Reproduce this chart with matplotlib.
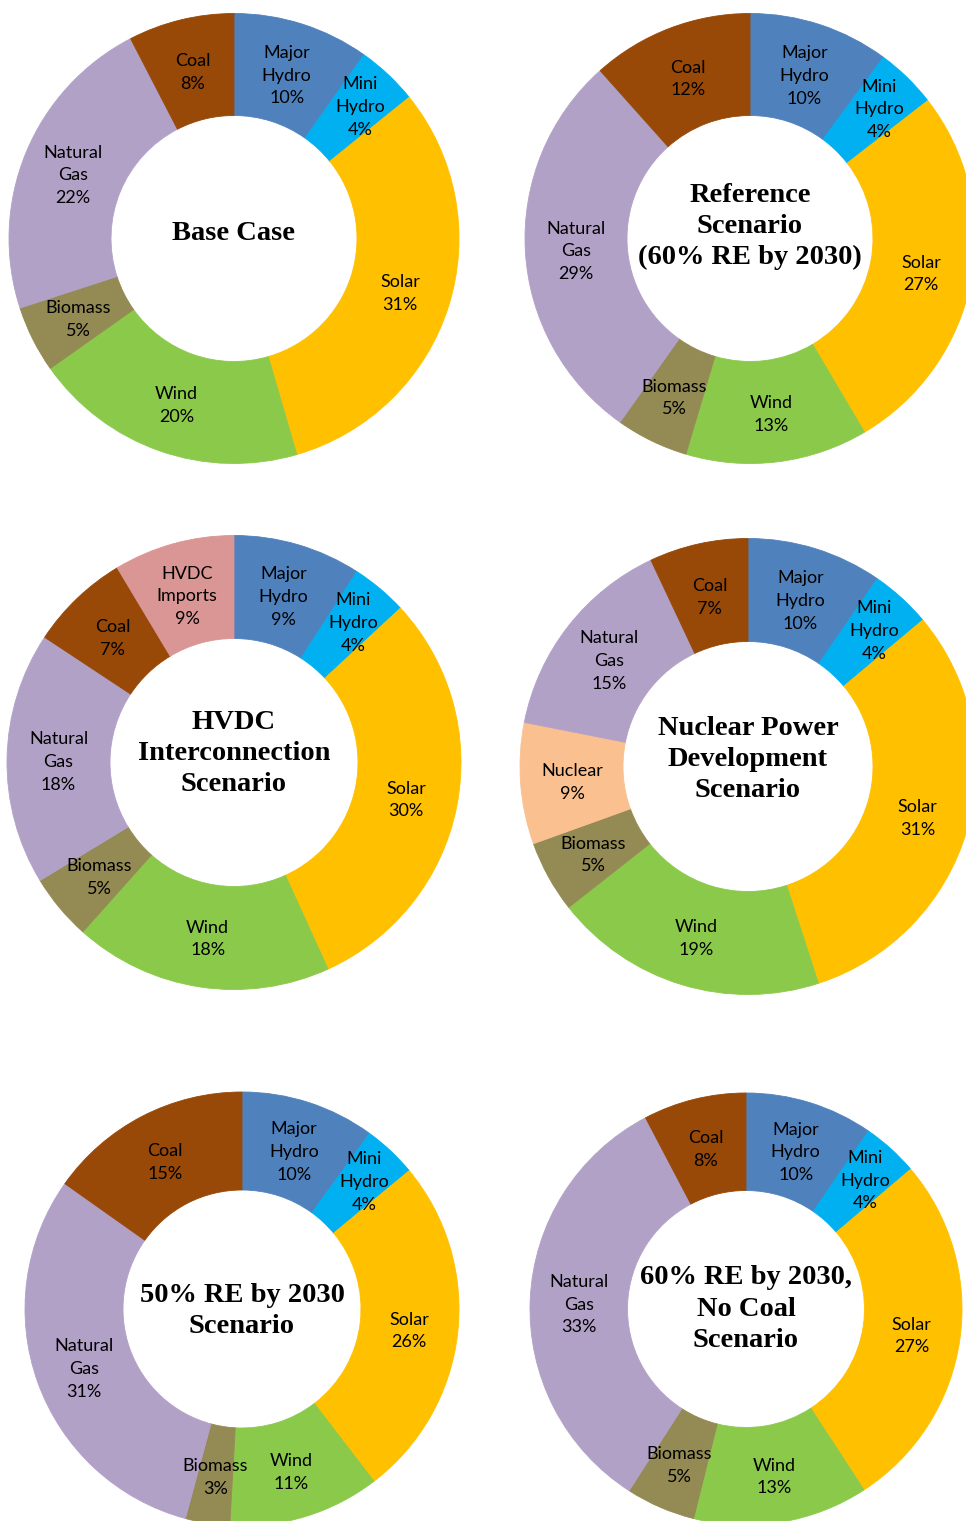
import matplotlib.pyplot as plt
import numpy as np

W, H = 966, 1521

# scenario titles
titles = ["Base Case",
          "Reference\nScenario\n(60% RE by 2030)",
          "HVDC\nInterconnection\nScenario",
          "Nuclear Power\nDevelopment\nScenario",
          "50% RE by 2030\nScenario",
          "60% RE by 2030,\nNo Coal\nScenario"]

# generation mix per scenario (%), clockwise from 12 o'clock
std_sources = ["Major Hydro", "Mini Hydro", "Solar", "Wind", "Biomass", "Natural Gas", "Coal"]
hvdc_sources = ["Major Hydro", "Mini Hydro", "Solar", "Wind", "Biomass", "Natural Gas", "Coal", "HVDC Imports"]
nuc_sources = ["Major Hydro", "Mini Hydro", "Solar", "Wind", "Biomass", "Nuclear", "Natural Gas", "Coal"]

base_share = [9.8, 4.4, 31.3, 19.7, 4.8, 22.4, 7.6]
ref_share = [10.1, 4.4, 27.0, 13.1, 5.2, 28.6, 11.6]
hvdc_share = [9.1, 4.0, 30.1, 18.4, 4.7, 18.0, 7.1, 8.6]
nuc_share = [9.6, 4.3, 31.1, 19.4, 5.1, 8.6, 14.9, 7.0]
re50_share = [10.0, 4.0, 25.6, 11.3, 3.3, 30.6, 15.2]
nocoal_share = [9.6, 4.2, 27.0, 13.1, 5.2, 33.2, 7.7]

colors = {
    "Major Hydro": "#4F81BD",
    "Mini Hydro": "#00B0F0",
    "Solar": "#FFC000",
    "Wind": "#8BC94B",
    "Biomass": "#948A54",
    "Nuclear": "#FAC090",
    "Natural Gas": "#B2A1C7",
    "Coal": "#984807",
    "HVDC Imports": "#D99694",
}

scenarios = [
    (std_sources, base_share),
    (std_sources, ref_share),
    (hvdc_sources, hvdc_share),
    (nuc_sources, nuc_share),
    (std_sources, re50_share),
    (std_sources, nocoal_share),
]

# pixel layout: centre x, centre y (from top), outer r, inner r, title shift
layout = [
    (234, 238.5, 225, 123, -5),
    (750, 238.5, 225, 123, -12),
    (234, 762.5, 227, 124, -9),
    (748, 766.5, 228, 125, -7),
    (242, 1309, 217, 119, 2),
    (746, 1309, 216, 118.5, 0),
]


def main():
    fig = plt.figure(figsize=(W / 100, H / 100), dpi=100)
    ax = fig.add_axes([0, 0, 1, 1])

    for (sources, share), (cx, cy, R, r, tdy), title in zip(scenarios, layout, titles):
        center = (cx, H - cy)
        wedges, _ = ax.pie(share, center=center, radius=R, startangle=90,
                           counterclock=False,
                           colors=[colors[s] for s in sources],
                           wedgeprops=dict(width=R - r, linewidth=0.6))

        # labels sit in the middle of the ring
        rmid = (R + r) / 2
        for w, src, val in zip(wedges, sources, share):
            w.set_edgecolor(w.get_facecolor())
            ang = np.deg2rad((w.theta1 + w.theta2) / 2)
            d = rmid * (1.06 if src == "Mini Hydro" else 1.0)
            ax.text(center[0] + d * np.cos(ang), center[1] + d * np.sin(ang) - 3,
                    src.replace(" ", "\n") + "\n%d%%" % round(val),
                    ha="center", va="center", fontsize=13, family="Lato",
                    linespacing=1.52, color="black")

        ax.text(center[0], center[1] - tdy, title, ha="center", va="center",
                fontsize=20.5, family="Liberation Serif", fontweight="bold",
                linespacing=1.33)

    ax.set_xlim(0, W)
    ax.set_ylim(0, H)
    ax.set_aspect("equal")
    ax.axis("off")

    fig.savefig("out.png", dpi=100)


if __name__ == '__main__':
    main()
